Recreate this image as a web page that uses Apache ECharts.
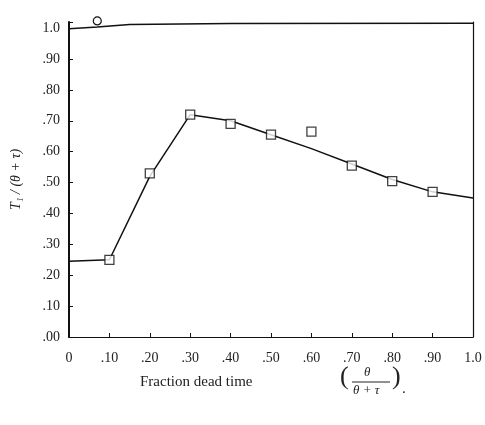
<!DOCTYPE html>
<html><head><meta charset="utf-8">
<script src="https://cdn.jsdelivr.net/npm/echarts@6/dist/echarts.min.js"></script>
<style>html,body{margin:0;padding:0;background:#fff}#c{width:485px;height:425px}</style>
</head><body><div id="c"></div>
<script>
// Fitted curve (fraction dead time vs T1/(theta+tau))
const curveX = [0, 0.10, 0.20, 0.30, 0.40, 0.50, 0.60, 0.70, 0.80, 0.90, 1.00];
const curveY = [0.245, 0.25, 0.52, 0.72, 0.70, 0.655, 0.61, 0.56, 0.51, 0.47, 0.45];
// Upper curve
const upperX = [0, 0.07, 0.15, 0.40, 1.00];
const upperY = [0.998, 1.004, 1.012, 1.015, 1.016];
// Open-square data points
const pointX = [0.10, 0.20, 0.30, 0.40, 0.50, 0.60, 0.70, 0.80, 0.90];
const pointY = [0.25, 0.53, 0.72, 0.69, 0.655, 0.665, 0.555, 0.505, 0.47];
// Marker on the upper curve
const markX = [0.07];
const markY = [1.004];
// Tick labels
const xTickLabels = ['0', '.10', '.20', '.30', '.40', '.50', '.60', '.70', '.80', '.90', '1.0'];
const yTickLabels = ['.00', '.10', '.20', '.30', '.40', '.50', '.60', '.70', '.80', '.90', '1.0'];

const zip = (a, b) => a.map((v, i) => [v, b[i]]);
const FONT = "'Liberation Serif','DejaVu Serif',serif";
const lbl = (arr) => (v) => {
  const k = Math.round(v * 10);
  return Math.abs(v * 10 - k) < 1e-6 && arr[k] !== undefined ? arr[k] : '';
};

const chart = echarts.init(document.getElementById('c'), null, {renderer: 'canvas'});
chart.setOption({
  animation: false,
  backgroundColor: '#fff',
  grid: {left: 69, right: 12, top: 22, bottom: 88, containLabel: false},
  xAxis: {
    type: 'value', min: 0, max: 1, interval: 0.1,
    axisLine: {show: true, lineStyle: {color: '#111', width: 1.2}},
    axisTick: {show: true, inside: true, length: 4, lineStyle: {color: '#111'}},
    splitLine: {show: false},
    axisLabel: {formatter: lbl(xTickLabels), color: '#222', fontFamily: FONT, fontSize: 14, margin: 14}
  },
  yAxis: [{
    type: 'value', min: 0, max: 1.02, interval: 0.1,
    axisLine: {show: true, lineStyle: {color: '#111', width: 2}},
    axisTick: {show: true, inside: true, length: 4, lineStyle: {color: '#111'}},
    splitLine: {show: false},
    axisLabel: {formatter: lbl(yTickLabels), color: '#222', fontFamily: FONT, fontSize: 14, margin: 9},
    name: 'T\u2081 / (\u03b8 + \u03c4)', nameLocation: 'middle', nameGap: 46, nameRotate: 90,
    nameTextStyle: {fontFamily: FONT, fontStyle: 'italic', fontSize: 14, color: '#222'}
  }, {
    type: 'value', min: 0, max: 1.02, position: 'right',
    axisLine: {show: true, lineStyle: {color: '#111', width: 1.2}},
    axisTick: {show: false}, axisLabel: {show: false}, splitLine: {show: false}
  }],
  series: [{
    type: 'line', data: zip(upperX, upperY), showSymbol: false, symbol: 'none',
    lineStyle: {color: '#111', width: 1.5}, clip: false
  }, {
    type: 'line', data: zip(curveX, curveY), showSymbol: false, symbol: 'none',
    lineStyle: {color: '#111', width: 1.5}
  }, {
    type: 'scatter', data: zip(pointX, pointY), symbol: 'rect', symbolSize: 9,
    itemStyle: {color: '#fff', borderColor: '#111', borderWidth: 1.3}, z: 5
  }, {
    type: 'scatter', data: zip(markX, markY), symbol: 'circle', symbolSize: 8,
    symbolOffset: [0, -6], clip: false,
    itemStyle: {color: '#fff', borderColor: '#111', borderWidth: 1.2, opacity: 1}, z: 6
  }],
  graphic: [
    {type: 'text', left: 140, top: 375, style: {text: 'Fraction dead time', font: '15px ' + FONT, fill: '#222'}},
    {type: 'text', left: 340, top: 364, style: {text: '(', font: '26px ' + FONT, fill: '#222'}},
    {type: 'text', left: 364, top: 366, style: {text: '\u03b8', font: 'italic 13px ' + FONT, fill: '#222'}},
    {type: 'line', shape: {x1: 352, y1: 382, x2: 390, y2: 382}, style: {stroke: '#222', lineWidth: 1}},
    {type: 'text', left: 353, top: 384, style: {text: '\u03b8 + \u03c4', font: 'italic 13px ' + FONT, fill: '#222'}},
    {type: 'text', left: 392, top: 364, style: {text: ')', font: '26px ' + FONT, fill: '#222'}},
    {type: 'text', left: 402, top: 382, style: {text: '.', font: '15px ' + FONT, fill: '#222'}}
  ]
});
</script></body></html>
